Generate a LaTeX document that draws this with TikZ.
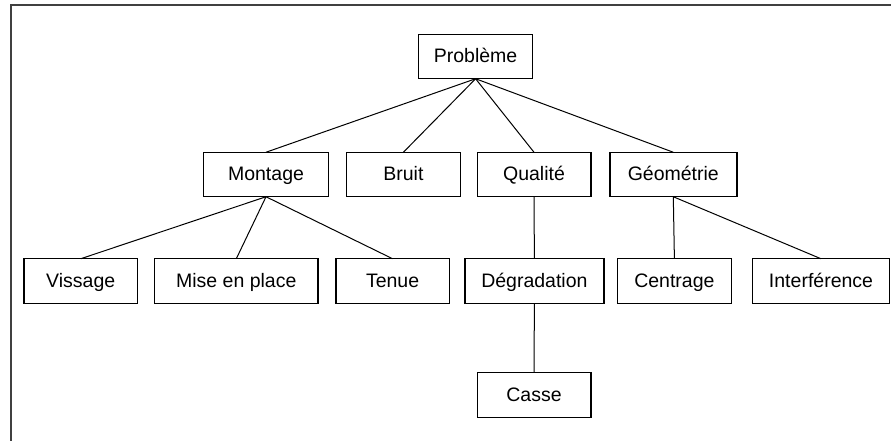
\documentclass[tikz,border=0pt]{standalone}
\usepackage{fontspec}
\setmainfont{Liberation Sans}
\begin{document}
\begin{tikzpicture}[x=1pt,y=-1pt,
  box/.style={draw=black,line width=1.4pt,rectangle,inner sep=0pt,outer sep=0pt,
    minimum height=44.5pt,text height=14pt,text depth=2pt,
    font=\fontsize{19.5}{23}\selectfont},
  link/.style={draw=black,line width=1pt},
  frameline/.style={draw=black!75,line width=2pt}]
\useasboundingbox (0,0) rectangle (891,441);
\fill[white] (0,0) rectangle (891,441);
% outer frame (top and left edges)
\draw[frameline] (891,4.8) -- (10.5,4.8) -- (10.5,441);

% root
\node[box,minimum width=114pt] (prob) at (475.6,56.5) {Problème};
% second level
\node[box,minimum width=125pt] (mont) at (266,174.5) {Montage};
\node[box,minimum width=113.6pt] (bruit) at (403.4,174.5) {Bruit};
\node[box,minimum width=113.6pt] (qual) at (534,174.5) {Qualité};
\node[box,minimum width=127pt] (geom) at (673.3,174.5) {Géométrie};
% third level
\node[box,minimum width=113.6pt] (viss) at (80.7,281) {Vissage};
\node[box,minimum width=163.7pt] (mise) at (236.3,281) {Mise en place};
\node[box,minimum width=113.6pt] (tenue) at (392.6,281) {Tenue};
\node[box,minimum width=139pt] (degr) at (534.4,281) {Dégradation};
\node[box,minimum width=113.7pt] (centr) at (674.4,281) {Centrage};
\node[box,minimum width=137pt] (inter) at (821,281) {Interférence};
% fourth level
\node[box,minimum width=113.6pt] (casse) at (534,395) {Casse};

% connectors
\draw[link] (prob.south) -- (mont.north);
\draw[link] (prob.south) -- (bruit.north);
\draw[link] (prob.south) -- (qual.north);
\draw[link] (prob.south) -- (geom.north);
\draw[link] (mont.south) -- (viss.north);
\draw[link] (mont.south) -- (mise.north);
\draw[link] (mont.south) -- (tenue.north);
\draw[link] (qual.south) -- (degr.north);
\draw[link] (geom.south) -- (centr.north);
\draw[link] (geom.south) -- (inter.north);
\draw[link] (degr.south) -- (casse.north);
\end{tikzpicture}
\end{document}
